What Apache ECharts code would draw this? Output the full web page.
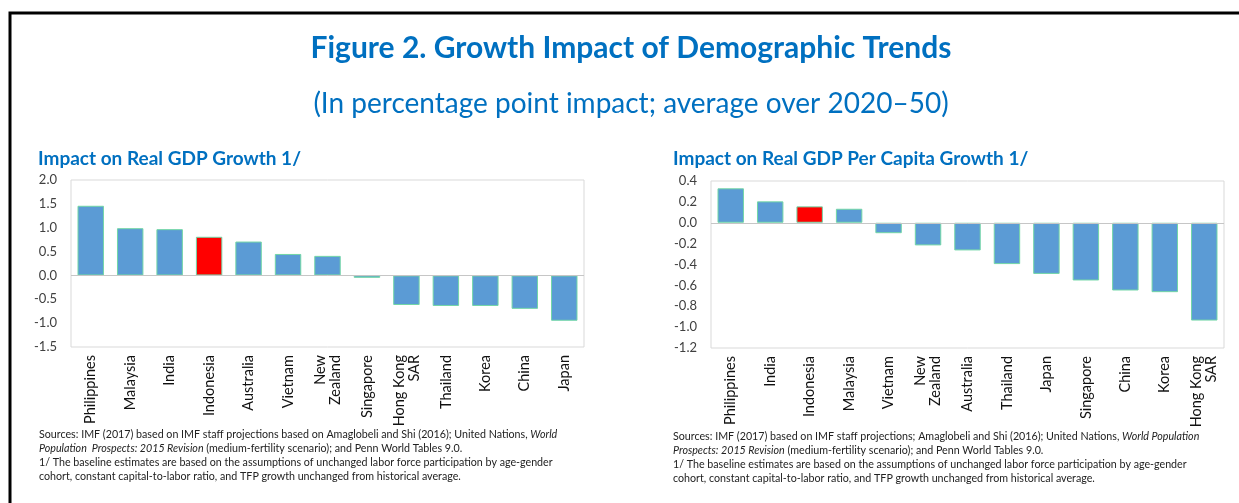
<!DOCTYPE html>
<html>
<head>
<meta charset="utf-8">
<title>Growth Impact of Demographic Trends</title>
<script src="https://cdn.jsdelivr.net/npm/echarts@6/dist/echarts.min.js"></script>
<style>
  html, body { margin: 0; padding: 0; background: #fff; }
  #chart { width: 1239px; height: 503px; }
</style>
</head>
<body>
<div id="chart"></div>
<script>
// Impact on real GDP growth (percentage points, average 2020–50)
const gdpCategories = ['Philippines', 'Malaysia', 'India', 'Indonesia', 'Australia', 'Vietnam',
  'New\nZealand', 'Singapore', 'Hong Kong\nSAR', 'Thailand', 'Korea', 'China', 'Japan'];
const gdpValues = [1.46, 0.99, 0.97, 0.81, 0.71, 0.45, 0.41, -0.05, -0.62, -0.64, -0.64, -0.70, -0.95];

// Impact on real GDP per capita growth (percentage points, average 2020–50)
const pcCategories = ['Philippines', 'India', 'Indonesia', 'Malaysia', 'Vietnam', 'New\nZealand',
  'Australia', 'Thailand', 'Japan', 'Singapore', 'China', 'Korea', 'Hong Kong\nSAR'];
const pcValues = [0.33, 0.205, 0.157, 0.134, -0.10, -0.217, -0.265, -0.396, -0.49, -0.553, -0.649, -0.665, -0.937];

// Axis ranges
const gdpAxis = { min: -1.5, max: 2.0, interval: 0.5 };
const pcAxis = { min: -1.2, max: 0.4, interval: 0.2 };

const highlighted = 'Indonesia';

const BLUE = '#5B9BD5';
const RED = '#FF0000';
const EDGE = '#72D6A6';
const TITLE_BLUE = '#0070C0';
const FONT = 'Lato, "Open Sans", "Noto Sans", sans-serif';

function barData(cats, vals) {
  return vals.map((v, i) => ({
    value: v,
    itemStyle: { color: cats[i] === highlighted ? RED : BLUE }
  }));
}

const chart = echarts.init(document.getElementById('chart'), null, { renderer: 'canvas' });

const grids = [
  { left: 71, top: 180, width: 513, height: 167 },
  { left: 711, top: 181, width: 513, height: 167 }
];

function xAxisFor(idx, cats) {
  return {
    type: 'category', gridIndex: idx, data: cats, position: 'bottom',
    axisLine: { show: false, onZero: false },
    axisTick: { show: false },
    axisLabel: {
      interval: 0, rotate: 90, margin: 8,
      color: '#111', fontFamily: FONT, fontSize: 14.5, lineHeight: 15
    },
    splitLine: { show: false }
  };
}

function yAxisFor(idx, r) {
  return {
    type: 'value', gridIndex: idx, min: r.min, max: r.max, interval: r.interval,
    axisLine: { show: false }, axisTick: { show: false }, splitLine: { show: false },
    axisLabel: {
      margin: 14, color: '#404040', fontFamily: FONT, fontSize: 13,
      formatter: v => (Math.round(v * 10) / 10).toFixed(1)
    }
  };
}

function seriesFor(idx, cats, vals) {
  return {
    type: 'bar', xAxisIndex: idx, yAxisIndex: idx,
    data: barData(cats, vals),
    barCategoryGap: '33%',
    itemStyle: { borderColor: EDGE, borderWidth: 1 },
    silent: true,
    markLine: {
      silent: true, symbol: 'none', label: { show: false },
      lineStyle: { color: '#c6c6c6', width: 1, type: 'solid' },
      data: [{ yAxis: 0 }]
    },
    z: 3
  };
}

const noteStyle = {
  fontFamily: FONT, fontSize: 10.7, fontWeight: 'normal', color: '#222', lineHeight: 14,
  rich: { i: { fontStyle: 'italic', fontWeight: 'normal', fontFamily: FONT, fontSize: 10.7, color: '#222', lineHeight: 14 } }
};

const leftNote = 'Sources: IMF (2017) based on IMF staff projections based on Amaglobeli and Shi (2016); United Nations, {i|World}\n' +
  '{i|Population  Prospects: 2015 Revision} (medium-fertility scenario); and Penn World Tables 9.0.\n' +
  '1/ The baseline estimates are based on the assumptions of unchanged labor force participation by age-gender\n' +
  'cohort, constant capital-to-labor ratio, and TFP growth unchanged from historical average.';

const rightNote = 'Sources: IMF (2017) based on IMF staff projections; Amaglobeli and Shi (2016); United Nations, {i|World Population}\n' +
  '{i|Prospects: 2015 Revision} (medium-fertility scenario); and Penn World Tables 9.0.\n' +
  '1/ The baseline estimates are based on the assumptions of unchanged labor force participation by age-gender\n' +
  'cohort, constant capital-to-labor ratio, and TFP growth unchanged from historical average.';

const option = {
  backgroundColor: '#fff',
  animation: false,
  title: [
    { text: 'Impact on Real GDP Growth 1/', left: 33, top: 144,
      textStyle: { fontFamily: FONT, fontSize: 19, fontWeight: 'bold', color: TITLE_BLUE } },
    { text: 'Impact on Real GDP Per Capita Growth 1/', left: 668, top: 144,
      textStyle: { fontFamily: FONT, fontSize: 19, fontWeight: 'bold', color: TITLE_BLUE } },
    { text: leftNote, left: 34, top: 423, padding: [5, 5], textStyle: noteStyle },
    { text: rightNote, left: 668, top: 425, padding: [5, 5], textStyle: noteStyle }
  ],
  grid: grids.map(g => Object.assign({ show: true, borderColor: '#d9d9d9', borderWidth: 1, backgroundColor: 'transparent' }, g)),
  xAxis: [xAxisFor(0, gdpCategories), xAxisFor(1, pcCategories)],
  yAxis: [yAxisFor(0, gdpAxis), yAxisFor(1, pcAxis)],
  series: [seriesFor(0, gdpCategories, gdpValues), seriesFor(1, pcCategories, pcValues)],
  graphic: [
    // figure frame
    { type: 'polyline', silent: true,
      shape: { points: [[10, 503], [10, 13], [1239, 13]] },
      style: { stroke: '#000', lineWidth: 3, fill: null } },
    // figure heading, centred inside the frame
    { type: 'text', silent: true, x: 631, y: 48,
      style: { text: 'Figure 2. Growth Impact of Demographic Trends', align: 'center', verticalAlign: 'middle',
        font: 'bold 30px ' + FONT, fill: TITLE_BLUE } },
    { type: 'text', silent: true, x: 631, y: 104,
      style: { text: '(In percentage point impact; average over 2020–50)', align: 'center', verticalAlign: 'middle',
        font: 'normal 28px ' + FONT, fill: TITLE_BLUE } }
  ]
};

chart.setOption(option);
</script>
</body>
</html>
